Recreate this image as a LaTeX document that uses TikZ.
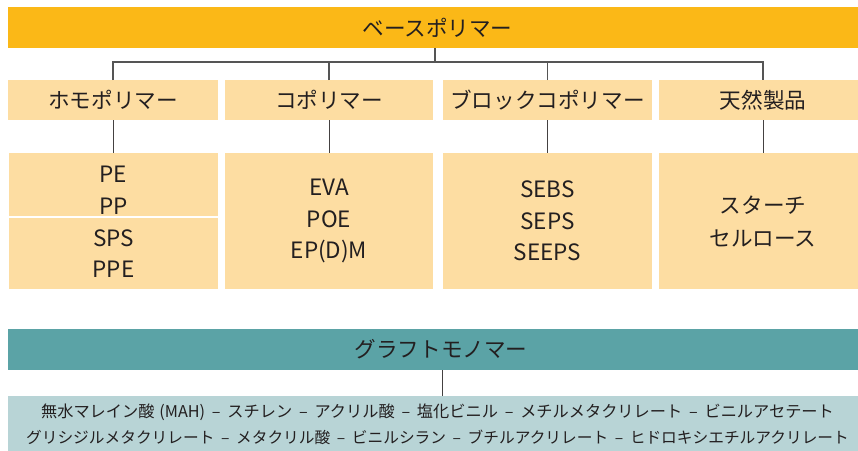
\documentclass[tikz,border=0pt]{standalone}
\usepackage{fontspec}
\setmainfont{Noto Sans CJK JP}
\newcommand{\dsep}{\hspace{0.42em}–\hspace{0.42em}}
\definecolor{topor}{HTML}{FBB817}
\definecolor{lightor}{HTML}{FDDDA2}
\definecolor{teal1}{HTML}{5BA3A6}
\definecolor{lteal}{HTML}{B8D4D6}
\definecolor{txt}{HTML}{231F20}
\definecolor{conn}{HTML}{555555}
\begin{document}
\begin{tikzpicture}[x=1pt,y=-1pt,
  cell/.style={rectangle, inner sep=0pt, outer sep=0pt, anchor=north west, text=txt, align=center},
  hdr/.style={cell, fill=lightor, minimum height=40pt, font=\fontsize{21.6}{24}\selectfont},
  body/.style={cell, fill=lightor, font=\fontsize{22.5}{31.5}\selectfont},
  conline/.style={draw=conn, line width=1.2pt},
  subline/.style={draw=txt!85, line width=0.9pt}]
\useasboundingbox (0,0) rectangle (858,450);
\clip (0,0) rectangle (858,450);
% top bar
\node[cell, fill=topor, minimum width=859pt, minimum height=41pt, font=\fontsize{21.6}{24}\selectfont] (base) at (8,7) {ベースポリマー};
% second row
\node[hdr, minimum width=210pt] (homo) at (8,80) {ホモポリマー};
\node[hdr, minimum width=208pt] (co) at (225,80) {コポリマー};
\node[hdr, minimum width=209pt] (blk) at (443,80) {ブロックコポリマー};
\node[hdr, minimum width=208pt] (nat) at (659,80) {天然製品};
% third row
\node[body, minimum width=209pt, minimum height=63pt] (homoA) at (9,153) {\rule{0pt}{28pt}PE\\PP};
\node[body, minimum width=209pt, minimum height=71pt, font=\fontsize{22.5}{30.5}\selectfont] (homoB) at (9,218) {SPS\\PPE};
\node[body, minimum width=208pt, minimum height=136pt] (coB) at (225,153) {EVA\\POE\\EP(D)M};
\node[body, minimum width=209pt, minimum height=136pt] (blkB) at (443,153) {SEBS\\SEPS\\SEEPS};
\node[body, minimum width=208pt, minimum height=136pt, font=\fontsize{21.6}{33}\selectfont] (natB) at (659,153) {スターチ\\セルロース};
% graft
\node[cell, fill=teal1, minimum width=859pt, minimum height=41pt, font=\fontsize{21.6}{24}\selectfont] (graft) at (8,329) {\hspace{7pt}グラフトモノマー};
\node[cell, fill=lteal, minimum width=859pt, minimum height=56pt, font=\fontsize{16.2}{26}\selectfont] (mono) at (8,396)
  {無水マレイン酸\hspace{0.3em}(MAH)\dsep スチレン\dsep アクリル酸\dsep 塩化ビニル\dsep メチルメタクリレート\dsep ビニルアセテート\\
   \fontsize{15.7}{26}\selectfont グリシジルメタクリレート\dsep メタクリル酸\dsep ビニルシラン\dsep ブチルアクリレート\dsep ヒドロキシエチルアクリレート};
% connectors
\coordinate (hub) at (435,62);
\coordinate (gx) at (442,0);
\draw[conline] (base.south -| hub) -- (hub);
\draw[conline] (homo.north) -- (homo.north |- hub) -- (nat.north |- hub) -- (nat.north);
\draw[conline] (co.north) -- (co.north |- hub);
\draw[conline] (blk.north) -- (blk.north |- hub);
\draw[subline] (homo.south) -- (homoA.north -| homo.south);
\draw[subline] (co.south) -- (coB.north);
\draw[subline] (blk.south) -- (blkB.north);
\draw[subline] (nat.south) -- (natB.north);
\draw[subline] (graft.south -| gx) -- (mono.north -| gx);
\end{tikzpicture}
\end{document}
